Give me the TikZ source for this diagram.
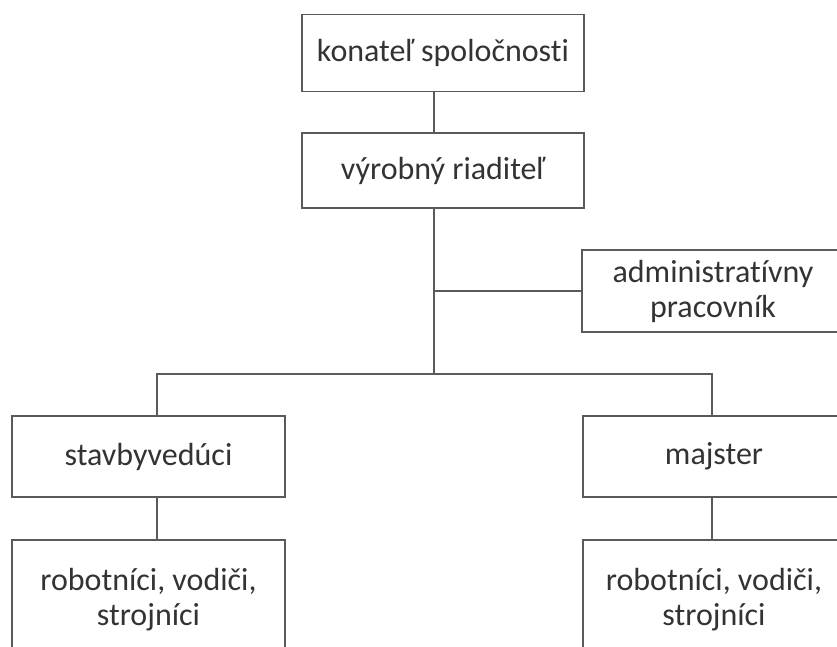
\documentclass[tikz,border=0pt]{standalone}
\usepackage{fontspec}
\setmainfont{Carlito}[Ligatures=NoCommon]
\definecolor{linec}{HTML}{5A5A5A}
\definecolor{textc}{HTML}{333333}
\begin{document}
\begin{tikzpicture}[x=1pt,y=-1pt,
  box/.style={draw=linec, line width=1.7pt, rectangle, inner sep=0pt, align=center,
    text=textc, font=\fontsize{32}{35}\selectfont},
  conn/.style={draw=linec, line width=1.7pt}]
\useasboundingbox (0,0) rectangle (837,646);
\clip (0,0) rectangle (837,646);
\node[box, minimum width=282pt, minimum height=77pt] (k) at (443,53) {konateľ spoločnosti};
\node[box, minimum width=282pt, minimum height=75pt] (v) at (443,170.5) {výrobný riaditeľ};
\node[box, minimum width=262pt, minimum height=82pt] (a) at (713,291) {administratívny\\pracovník};
\node[box, minimum width=273pt, minimum height=81pt] (s) at (148.5,456.5) {stavbyvedúci};
\node[box, minimum width=262pt, minimum height=81pt] (m) at (714,456.5) {majster};
\node[box, minimum width=273pt, minimum height=120pt] (r1) at (148.5,600) {robotníci, vodiči,\\strojníci};
\node[box, minimum width=262pt, minimum height=120pt] (r2) at (714,600) {robotníci, vodiči,\\strojníci};
\coordinate (j) at (434,374);
\coordinate (ja) at (434,291);
\draw[conn] (k.south -| j) -- (v.north -| j);
\draw[conn] (v.south -| j) -- (j);
\draw[conn] (ja) -- (a.west);
\draw[conn] (s.north -| 157,0) |- (j) -| (m.north -| 712,0);
\draw[conn] (s.south -| 157,0) -- (r1.north -| 157,0);
\draw[conn] (m.south -| 712,0) -- (r2.north -| 712,0);
\end{tikzpicture}
\end{document}
